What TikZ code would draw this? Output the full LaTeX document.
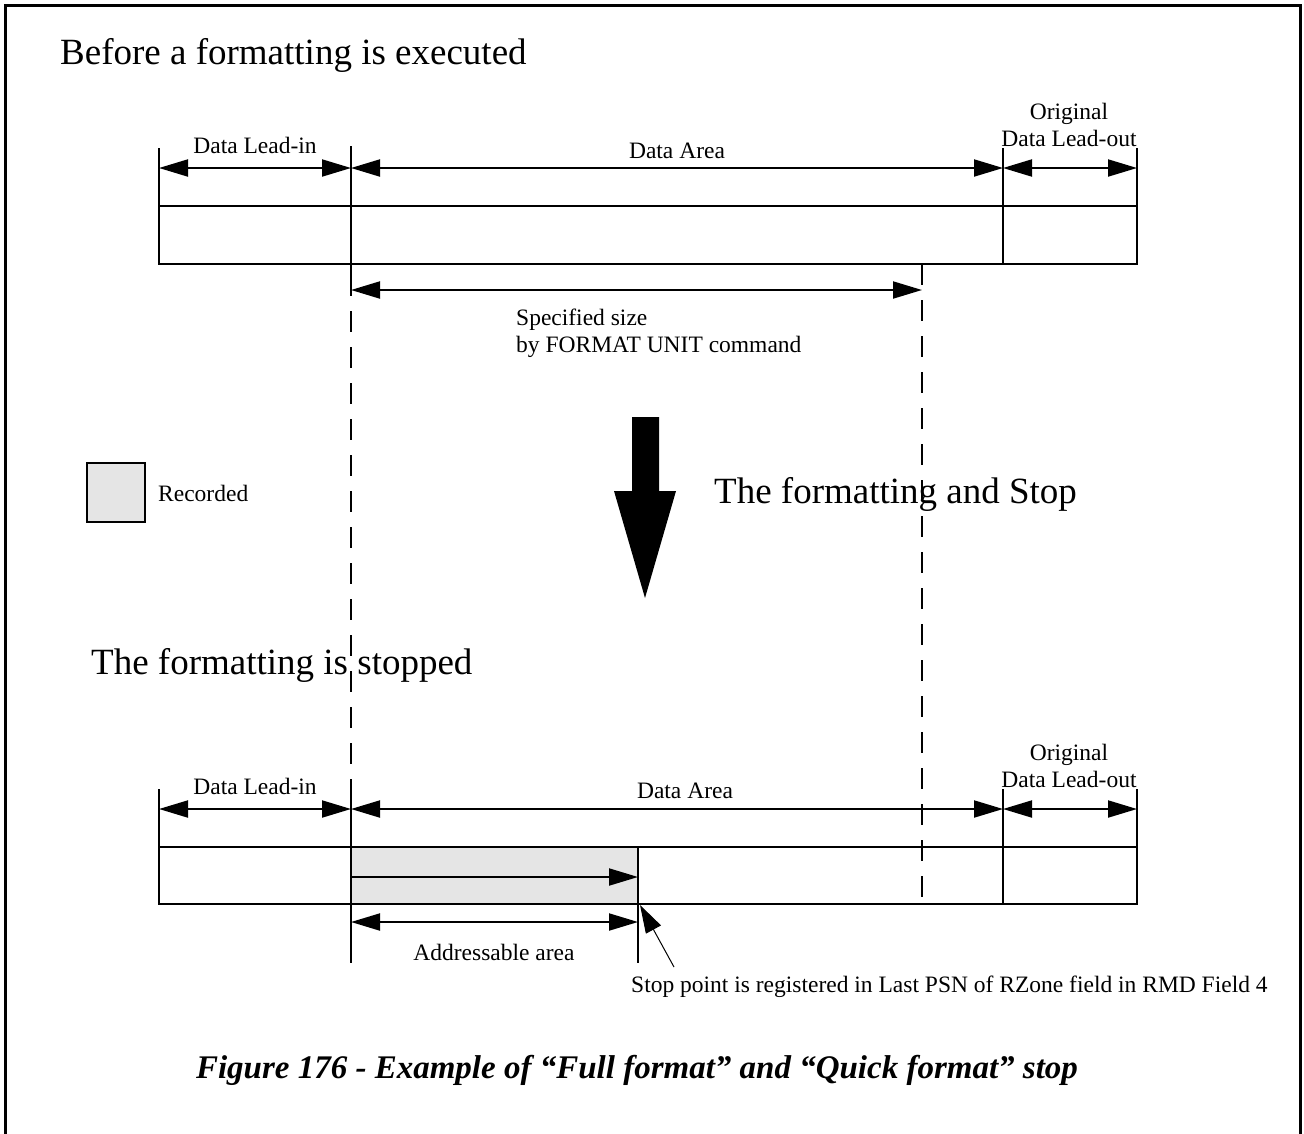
\documentclass[tikz,border=0pt]{standalone}
\usepackage{fontspec}
\setmainfont{Liberation Serif}
\usetikzlibrary{arrows.meta}
\tikzset{
  big/.style={font=\fontsize{37}{40}\selectfont, inner sep=0pt, anchor=west},
  small/.style={font=\fontsize{23.5}{26.5}\selectfont, inner sep=0pt},
  solidline/.style={line width=2pt},
  dashline/.style={line width=2pt, dash pattern=on 21pt off 15pt},
  dimarrow/.style={line width=2pt, {Triangle[length=29pt,width=17pt]}-{Triangle[length=29pt,width=17pt]}},
  onearrow/.style={line width=2pt, -{Triangle[length=29pt,width=17pt]}},
  ptrarrow/.style={line width=1pt, -{Triangle[length=28pt,width=17pt]}},
  recfill/.style={fill=black!10},
  frame/.style={line width=3pt}
}
\begin{document}
\begin{tikzpicture}[x=1pt,y=-1pt]
\useasboundingbox (0,0) rectangle (1304,1133);
% outer frame (open at bottom)
\coordinate (fBL) at (5.5,1140);
\coordinate (fTL) at (5.5,5.5);
\coordinate (fTR) at (1300,5.5);
\coordinate (fBR) at (1300,1140);
\draw[frame] (fBL) -- (fTL) -- (fTR) -- (fBR);

% titles
\node[big] (t1) at (60,55) {Before a formatting is executed};
\node[big] (t2) at (714,494) {The formatting and Stop};
\node[big] (t3) at (91,665) {The formatting is stopped};

% ===== top section =====
\coordinate (a0t) at (159,148); \coordinate (a0b) at (159,264);
\coordinate (a1t) at (351,146); \coordinate (a1b) at (351,275);
\coordinate (a2t) at (1003,148); \coordinate (a2b) at (1003,264);
\coordinate (a3t) at (1137,148); \coordinate (a3b) at (1137,264);
\coordinate (barTL) at (159,206); \coordinate (barTR) at (1137,206);
\draw[solidline] (a0t) -- (a0b) -- (a3b) -- (a3t);
\draw[solidline] (barTL) -- (barTR);
\draw[solidline] (a1t) -- (a1b);
\draw[solidline] (a2t) -- (a2b);
\coordinate (r0) at (159,168); \coordinate (r1) at (351,168);
\coordinate (r2) at (1003,168); \coordinate (r3) at (1137,168);
\draw[dimarrow] (r0) -- (r1);
\draw[dimarrow] (r1) -- (r2);
\draw[dimarrow] (r2) -- (r3);
\node[small] (li1) at (255,145) {Data Lead-in};
\node[small] (da1) at (677,151) {Data Area};
\node[small, align=center] (lo1) at (1069,125) {Original\\Data Lead-out};

% dashed guides
\coordinate (dL1) at (351,275); \coordinate (dL2) at (351,789);
\coordinate (dR1) at (922,264); \coordinate (dR2) at (922,910);
\draw[dashline] (dL1) -- (dL2);
\draw[dashline] (dR1) -- (dR2);

% specified size
\coordinate (s0) at (351,290); \coordinate (s1) at (922,290);
\draw[dimarrow] (s0) -- (s1);
\node[small, align=left, anchor=north west] (spec) at (516,309) {Specified size\\by FORMAT UNIT command};

% legend
\node[draw, recfill, line width=2pt, minimum width=58pt, minimum height=59pt, inner sep=0pt] (leg) at (116,492.5) {};
\node[small, anchor=west] (legt) at (158,493) {Recorded};

% big arrow
\coordinate (ba1) at (632,417); \coordinate (ba2) at (659,417);
\coordinate (ba3) at (659,491); \coordinate (ba4) at (676,491);
\coordinate (ba5) at (645,598); \coordinate (ba6) at (614,491);
\coordinate (ba7) at (632,491);
\fill (ba1) -- (ba2) -- (ba3) -- (ba4) -- (ba5) -- (ba6) -- (ba7) -- cycle;

% ===== bottom section =====
\coordinate (recTL) at (351,847); \coordinate (recBR) at (638,904);
\fill[recfill] (recTL) rectangle (recBR);
\coordinate (b0t) at (159,789); \coordinate (b0b) at (159,904);
\coordinate (b1t) at (351,789); \coordinate (b1b) at (351,963);
\coordinate (b2t) at (1003,789); \coordinate (b2b) at (1003,904);
\coordinate (b3t) at (1137,789); \coordinate (b3b) at (1137,904);
\coordinate (bs1) at (638,847); \coordinate (bs2) at (638,963);
\coordinate (bbarTL) at (159,847); \coordinate (bbarTR) at (1137,847);
\draw[solidline] (b0t) -- (b0b) -- (b3b) -- (b3t);
\draw[solidline] (bbarTL) -- (bbarTR);
\draw[solidline] (b1t) -- (b1b);
\draw[solidline] (b2t) -- (b2b);
\draw[solidline] (bs1) -- (bs2);
\coordinate (q0) at (159,809); \coordinate (q1) at (351,809);
\coordinate (q2) at (1003,809); \coordinate (q3) at (1137,809);
\draw[dimarrow] (q0) -- (q1);
\draw[dimarrow] (q1) -- (q2);
\draw[dimarrow] (q2) -- (q3);
\node[small] (li2) at (255,786) {Data Lead-in};
\node[small] (da2) at (685,791) {Data Area};
\node[small, align=center] (lo2) at (1069,766) {Original\\Data Lead-out};

\coordinate (ia0) at (351,877); \coordinate (ia1) at (638,877);
\draw[onearrow] (ia0) -- (ia1);
\coordinate (ad0) at (351,922); \coordinate (ad1) at (638,922);
\draw[dimarrow] (ad0) -- (ad1);
\node[small] (addr) at (494,952) {Addressable area};

\coordinate (stopTail) at (674,967); \coordinate (stopTip) at (640,905);
\draw[ptrarrow] (stopTail) -- (stopTip);
\node[small, anchor=west] (stopt) at (631,987) {Stop point is registered in Last PSN of RZone field in RMD Field 4};

% caption
\node[font=\fontsize{33}{36}\selectfont\bfseries\itshape, inner sep=0pt] (cap) at (637,1070) {Figure 176 - Example of “Full format” and “Quick format” stop};
\end{tikzpicture}
\end{document}
